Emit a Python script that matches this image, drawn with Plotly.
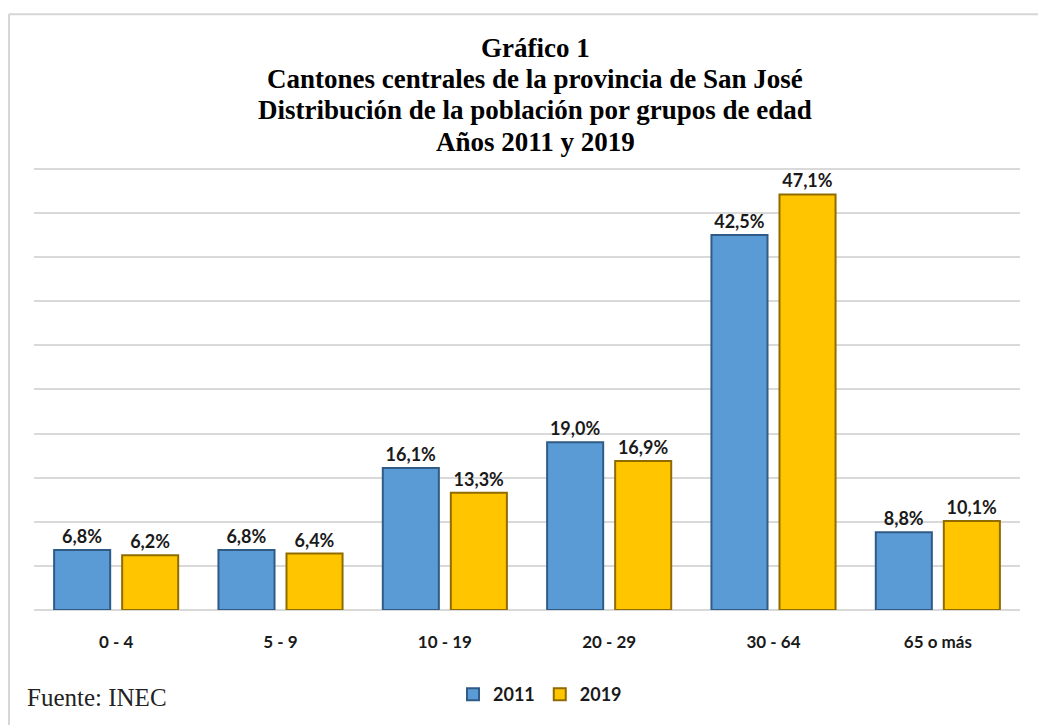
import plotly.graph_objects as go

categories = ["0 - 4", "5 - 9", "10 - 19", "20 - 29", "30 - 64", "65 o más"]
values_2011 = [6.8, 6.8, 16.1, 19.0, 42.5, 8.8]
values_2019 = [6.2, 6.4, 13.3, 16.9, 47.1, 10.1]
series_names = ["2011", "2019"]
title_lines = [
    "Gráfico 1",
    "Cantones centrales de la provincia de San José",
    "Distribución de la población por grupos de edad",
    "Años 2011 y 2019",
]
source_text = "Fuente: INEC"

# page body has an 8px margin; compensate so the picture lines up
OFF = 8
W, H = 1046 - OFF, 725 - OFF
ML, MR, MT, MB = 34 - OFF, 26, 160 - OFF, 113
PW, PH = W - ML - MR, H - MT - MB
YMAX = 51.0


def px(x):
    return (x - OFF - ML) / PW


def py(y):
    return (H - MB - (y - OFF)) / PH


sans = "Lato, 'Open Sans', sans-serif"
serif = "'Liberation Serif', 'Times New Roman', serif"
label_font = dict(family=sans, size=18, color="#1a1a1a")

fig = go.Figure()
fig.add_trace(go.Bar(
    x=categories, y=values_2011, name=series_names[0],
    marker=dict(color="#5b9bd5", line=dict(color="#2f5b86", width=2)),
    texttemplate="<b>%{y:.1f}%</b>", textposition="outside",
    textfont=label_font, cliponaxis=False,
))
fig.add_trace(go.Bar(
    x=categories, y=values_2019, name=series_names[1],
    marker=dict(color="#ffc600", line=dict(color="#8f6b00", width=2)),
    texttemplate="<b>%{y:.1f}%</b>", textposition="outside",
    textfont=label_font, cliponaxis=False,
))

fig.update_layout(
    width=W, height=H,
    margin=dict(l=ML, r=MR, t=MT, b=MB),
    paper_bgcolor="white", plot_bgcolor="white",
    separators=",.",
    barmode="group", bargap=0.172, bargroupgap=0.176,
    showlegend=True,
    legend=dict(
        orientation="h", x=px(540), xanchor="center", y=py(697), yanchor="middle",
        font=dict(family=sans, size=18, color="#1a1a1a", weight="bold"),
        itemwidth=30, traceorder="normal",
    ),
    xaxis=dict(
        showgrid=False, showline=False, ticks="",
        ticklabelstandoff=20,
        tickfont=dict(family=sans, size=17, color="#1a1a1a", weight="bold"),
    ),
    yaxis=dict(
        range=[0, YMAX], tick0=0, dtick=5, showticklabels=False, ticks="",
        showgrid=True, gridcolor="#d9d9d9", gridwidth=2,
        zeroline=True, zerolinecolor="#d9d9d9", zerolinewidth=2, showline=False,
    ),
    font=dict(family=sans),
)

# Title
title_y = [47, 79, 110, 142]
for line, yc in zip(title_lines, title_y):
    fig.add_annotation(
        text=f"<b>{line}</b>", x=px(535), y=py(yc), xref="paper", yref="paper",
        xanchor="center", yanchor="middle", showarrow=False,
        font=dict(family=serif, size=27, color="#000000"),
    )

# Source
fig.add_annotation(
    text=source_text, x=px(25), y=py(700), xref="paper", yref="paper",
    xanchor="left", yanchor="middle", showarrow=False,
    font=dict(family=serif, size=25, color="#222222"),
)

# Frame (top and left border lines)
fig.add_shape(type="line", xref="paper", yref="paper",
              x0=px(9), x1=px(1060), y0=py(13.5), y1=py(13.5),
              line=dict(color="#d6d6d6", width=2))
fig.add_shape(type="line", xref="paper", yref="paper",
              x0=px(9), x1=px(9), y0=py(13.5), y1=py(740),
              line=dict(color="#d6d6d6", width=2))

fig.write_html("out.html")
